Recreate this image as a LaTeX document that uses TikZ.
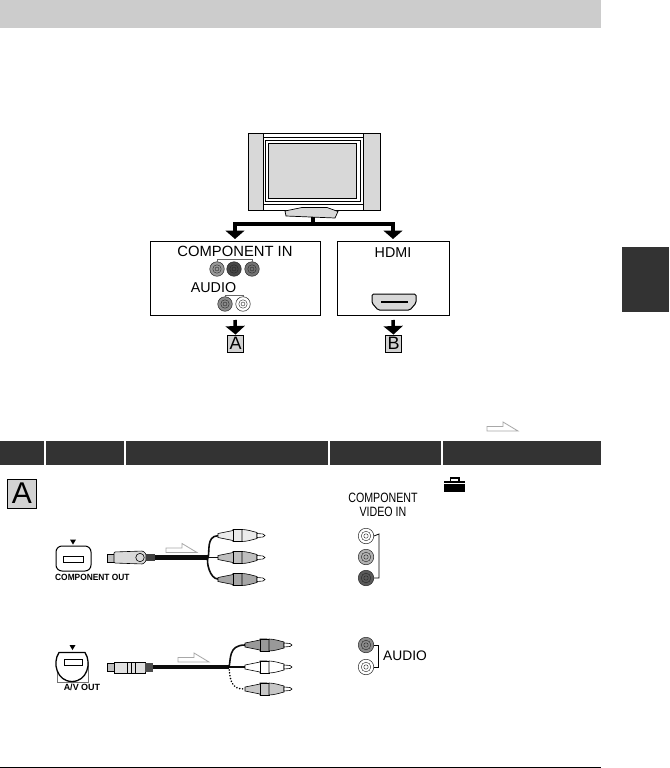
\documentclass[tikz,border=0pt]{standalone}
\usepackage{fontspec}
\usepackage{graphicx}
\setmainfont{Liberation Sans}
\usetikzlibrary{arrows.meta}
\definecolor{hdrbar}{HTML}{333333}
\definecolor{topbar}{HTML}{CCCCCC}
\definecolor{tvgray}{HTML}{D8D8D8}
\definecolor{lettergray}{HTML}{D2D2D2}
\definecolor{outl}{HTML}{A8A8A8}
\newcommand{\jack}[4]{%
  \node[jackn,fill=#3] (#4) at (#1,#2) {};
  \draw[black!85,line width=.4pt] (#1,#2) circle (4.2pt);
  \draw[black!85,line width=.4pt] (#1,#2) circle (2pt);
}
\newcommand{\smalljack}[4]{%
  \node[sjackn,fill=#3] (#4) at (#1,#2) {};
  \draw[black!85,line width=.4pt] (#1,#2) circle (4.8pt);
  \draw[black!85,line width=.35pt] (#1,#2) circle (2.2pt);
}
\newcommand{\rcaplug}[3]{%
  \begin{scope}[shift={(#1,#2)}]
    \draw[plugl,fill=#3] (0,-2) -- (15,-5) -- (15,-6) -- (22,-6) -- (22,6) -- (15,6) -- (15,5) -- (0,2) -- cycle;
    \draw[plugl,fill=#3] (15,-6.2) rectangle (24,6.2);
    \draw[plugl,fill=#3] (24,-6) .. controls (29,-6) and (35,-4) .. (39,-3) -- (39,3) .. controls (35,4) and (29,6) .. (24,6) -- cycle;
    \draw[plugl,fill=white] (39,-2) -- (45,-1.5) -- (47,0) -- (45,1.5) -- (39,2) -- cycle;
  \end{scope}
}
\newcommand{\hollowarrow}[2]{%
  \draw[outl,line width=.8pt,fill=white] (#1,#2) -- (#1,#2-4.5) -- (#1+16,#2-4.5) -- (#1+16,#2-9) -- (#1+31,#2) -- cycle;
}
\tikzset{
  x=1pt,y=-1pt,
  jackn/.style={circle,draw=black!85,line width=.5pt,minimum size=14.5pt,inner sep=0pt},
  sjackn/.style={circle,draw=black!85,line width=.5pt,minimum size=15.5pt,inner sep=0pt},
  plugl/.style={draw=black,line width=.6pt},
  boxn/.style={draw=black,line width=1pt,fill=white,inner sep=0pt},
  lettern/.style={draw=black,line width=.9pt,fill=lettergray,inner sep=0pt,font=\fontsize{18}{18}\selectfont},
  labeln/.style={inner sep=0pt,font=\fontsize{14.3}{14.3}\selectfont},
  downarr/.style={line width=3.5pt,-{Triangle[width=19pt,length=8.5pt]}},
  thinjoin/.style={draw=black!60,line width=.4pt},
  hdr/.style={fill=hdrbar,draw=none},
  cablel/.style={line width=4.4pt,black!95},
  branchl/.style={line width=1.6pt,black!95},
}
\begin{document}
\begin{tikzpicture}
\useasboundingbox (0,0) rectangle (669,768);
\fill[white] (0,0) rectangle (669,768);
\fill[topbar] (0,0) rectangle (601,28);
\fill[hdrbar] (622,247) rectangle (669,312);
\draw[black,line width=.8pt,fill=white] (248,133) -- (380,133) -- (380,210) -- (248,210) -- cycle;
\fill[tvgray] (248.5,134) rectangle (263,209.5);
\fill[tvgray] (363,134) rectangle (379.5,209.5);
\draw[black,line width=.5pt] (263,133) -- (263,210) (363,133) -- (363,210);
\draw[black,line width=.5pt] (263,137) -- (363,137) (263,204) -- (363,204);
\draw[black,line width=.8pt,fill=tvgray] (268,143) rectangle (356,198);
\draw[black,line width=.5pt] (265,140) rectangle (360,201);
\draw[black,line width=.7pt,fill=tvgray] (285,211) -- (302,207.5) -- (327,207.5) -- (338,211.5) -- (335,218) -- (286,216) -- cycle;
\coordinate (stand) at (313,217);
\coordinate (lft) at (235,224);
\coordinate (rgt) at (393,224);
\node[boxn,minimum width=170pt,minimum height=74pt] (boxA) at (235,278) {};
\node[boxn,minimum width=112pt,minimum height=74pt] (boxB) at (393,278) {};
\draw[line width=3.5pt] (stand) -- (313,224);
\draw[line width=3.5pt] (233.25,224) -- (394.75,224);
\draw[downarr] (lft) -- (235,239);
\draw[downarr] (rgt) -- (393,239);
\node[labeln,font=\fontsize{14.8}{14.8}\selectfont] (ci) at (235,251.5) {COMPONENT IN};
\node[labeln] (au) at (213.5,288) {AUDIO};
\jack{217}{269}{black!40}{j1}
\jack{234}{269}{black!72}{j2}
\jack{252}{269}{black!55}{j3}
\jack{225}{304}{black!45}{j4}
\jack{243}{304}{white}{j5}
\draw[thinjoin] (j1.north) -- (217,259.5) -- (252,259.5) -- (j3.north);
\draw[thinjoin] (j4.north) -- (225,295) -- (243,295) -- (j5.north);
\node[labeln] (hd) at (393,253) {HDMI};
\draw[black,line width=1pt,fill=tvgray,rounded corners=1.5pt] (372,294) -- (416,294) -- (416,303) -- (410,310) -- (378,310) -- (372,303) -- cycle;
\fill[black] (381,300.5) rectangle (408,303);
\node[lettern,minimum width=15.5pt,minimum height=17pt] (la) at (235.5,343.5) {A};
\node[lettern,minimum width=16.5pt,minimum height=17pt] (lb) at (393.5,343.5) {B};
\draw[downarr] (235,320) -- (la.north);
\draw[downarr] (393,320) -- (lb.north);
\hollowarrow{487}{431}
\path[hdr] (0,441) rectangle (44,465);
\path[hdr] (46,441) rectangle (124,465);
\path[hdr] (125.5,441) rectangle (328,465);
\path[hdr] (329.5,441) rectangle (441,465);
\path[hdr] (443,441) rectangle (601,465);
\node[lettern,minimum width=29pt,minimum height=29pt,font=\fontsize{30}{30}\selectfont] (bigA) at (22,493.5) {A};
\fill[black] (444,480.5) rectangle (465,492);
\draw[black,line width=1.3pt] (450.5,481) -- (450.5,478) -- (459,478) -- (459,481);
\draw[white,line width=.5pt] (444,483) -- (465,483);
\node[inner sep=0pt,font=\fontsize{13.5}{13.5}\selectfont] (cvi1) at (383,498) {\scalebox{.79}[1]{COMPONENT}};
\node[inner sep=0pt,font=\fontsize{13.5}{13.5}\selectfont] (cvi2) at (383,512) {\scalebox{.79}[1]{VIDEO IN}};
\smalljack{366}{536}{white}{v1}
\smalljack{366}{557}{black!30}{v2}
\smalljack{366}{578}{black!65}{v3}
\draw[black,line width=.8pt] (v1.east) -- (379,534) -- (379,578) -- (v3.east);
\draw[black,line width=1pt,rounded corners=6pt] (56,546) rectangle (91,571);
\draw[black,line width=.8pt] (63,556) rectangle (83,562);
\fill[black] (70,539.5) -- (76,539.5) -- (73,544.5) -- cycle;
\node[inner sep=0pt,anchor=west,font=\bfseries\fontsize{9}{9}\selectfont] (cout) at (55,577) {\scalebox{.93}[1]{COMPONENT OUT}};
\draw[plugl,fill=black!25] (107,554) rectangle (115,562);
\draw[plugl,fill=black!15,rounded corners=1pt] (114,552) -- (143,551) -- (146,554) -- (146,561) -- (143,564) -- (114,563) -- cycle;
\draw[plugl] (140,557.5) circle (4.2pt);
\fill[black!75] (146,554) rectangle (155,561);
\coordinate (p1) at (155,557.5);
\coordinate (b1) at (208,557.5);
\draw[cablel] (p1) -- (b1);
\draw[branchl] (b1) .. controls (210,552) and (206,536) .. (218,535.7);
\draw[branchl] (b1) .. controls (206,562) and (210,579) .. (218,579);
\draw[branchl] (b1) -- (218,557.5);
\rcaplug{218}{535.5}{black!8}
\rcaplug{218}{557.5}{black!25}
\rcaplug{218}{579.5}{black!35}
\hollowarrow{166}{552.5}
\draw[black!55,line width=.5pt] (57,662) -- (57,682) -- (88,682) -- (88,662);
\draw[black,line width=1.3pt,fill=white] (59,652.5) -- (85,652.5) .. controls (92,663) and (87,681.5) .. (72,681.5) .. controls (57,681.5) and (52,663) .. (59,652.5) -- cycle;
\draw[black,line width=.8pt] (64,659) rectangle (82,665);
\fill[black] (69.5,645) -- (75.5,645) -- (72.5,650) -- cycle;
\node[inner sep=0pt,font=\bfseries\fontsize{9}{9}\selectfont,fill=white,inner ysep=.5pt] (avo) at (82,687) {A/V OUT};
\draw[plugl,fill=black!25] (107,663.5) rectangle (114,671.5);
\draw[plugl,fill=black!12] (114,662) rectangle (145,673);
\draw[plugl] (127,662) -- (127,673) (131,662) -- (131,673) (135,662) -- (135,673);
\fill[black!70] (145,663) rectangle (153,672);
\coordinate (p2) at (153,667);
\coordinate (b2) at (229,667);
\draw[cablel] (p2) -- (b2);
\draw[branchl] (b2) .. controls (231,660) and (228,645) .. (245,645);
\draw[branchl] (b2) -- (245,667);
\draw[line width=1.7pt,line cap=round,dash pattern=on .1pt off 2.8pt] (b2) .. controls (230,680) and (231,689.5) .. (245,689);
\rcaplug{245}{645}{black!40}
\rcaplug{245}{667}{white}
\rcaplug{245}{689}{black!22}
\hollowarrow{178}{662}
\smalljack{366}{645}{black!45}{a1}
\smalljack{366}{667}{white}{a2}
\draw[black,line width=.8pt] (a1.east) -- (378,645) -- (378,667) -- (a2.east);
\node[inner sep=0pt,anchor=west,font=\fontsize{13.8}{13.8}\selectfont] (aud) at (383,656) {AUDIO};
\draw[black,line width=1pt] (0,767) -- (601,767);
\end{tikzpicture}
\end{document}
